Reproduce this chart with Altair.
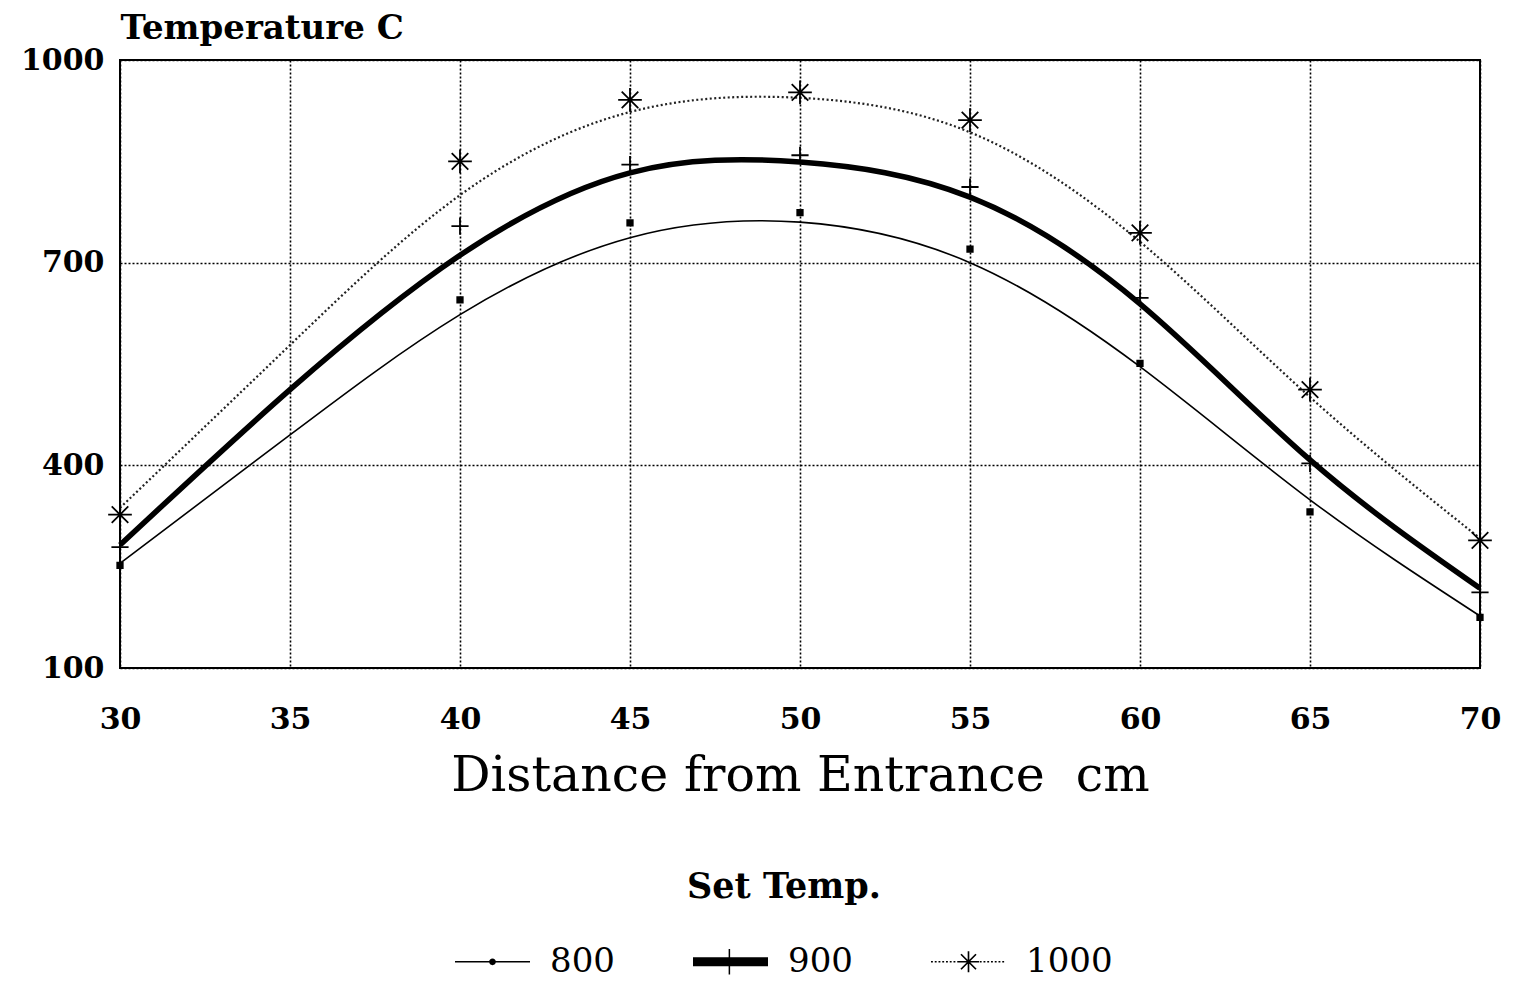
import altair as alt
import pandas as pd
import math

# ---------------- data ----------------
series = ["800", "900", "1000"]

# measured points (markers)
meas_x = [30, 40, 45, 50, 55, 60, 65, 70]
meas_800 = [252, 645, 759, 774, 720, 551, 331, 175]
meas_900 = [279, 754, 845, 859, 812, 648, 403, 212]
meas_1000 = [327, 850, 941, 952, 911, 744, 512, 289]

# fitted curves
fit_x = [30, 35, 40, 45, 50, 55, 60, 65, 70]
fit_800 = [255, 445, 623, 737, 760, 700, 546, 349, 177]
fit_900 = [282, 512, 711, 833, 849, 797, 639, 408, 218]
fit_1000 = [337, 578, 800, 923, 944, 893, 731, 501, 292]

x_ticks = [30, 35, 40, 45, 50, 55, 60, 65, 70]
y_ticks = [100, 400, 700, 1000]

meas_rows = []
for s, vals in zip(series, [meas_800, meas_900, meas_1000]):
    for x, v in zip(meas_x, vals):
        meas_rows.append({"distance": x, "temp": v, "series": s})
meas = pd.DataFrame(meas_rows)

fit_rows = []
for s, vals in zip(series, [fit_800, fit_900, fit_1000]):
    for x, v in zip(fit_x, vals):
        fit_rows.append({"distance": x, "temp": v, "series": s})
fit = pd.DataFrame(fit_rows)

FONT = "DejaVu Serif"

# ---------------- encodings ----------------
xenc = alt.X(
    "distance:Q",
    scale=alt.Scale(domain=[30, 70], nice=False, zero=False),
    axis=alt.Axis(
        values=x_ticks,
        format="d",
        title="Distance from Entrance\u00a0\u00a0cm",
        titleFont=FONT,
        titleFontSize=49,
        titleFontWeight="normal",
        titleColor="black",
        titleY=122,
        titleBaseline="alphabetic",
        titleLimit=1000,
        labelFont=FONT,
        labelFontSize=30,
        labelFontWeight="bold",
        labelColor="black",
        labelPadding=36,
        labelFlush=False,
        labelOverlap=False,
    ),
)
yenc = alt.Y(
    "temp:Q",
    scale=alt.Scale(domain=[100, 1000], nice=False, zero=False),
    axis=alt.Axis(
        values=y_ticks,
        format="d",
        title="Temperature C",
        titleFont=FONT,
        titleFontSize=34,
        titleFontWeight="bold",
        titleColor="black",
        titleAngle=0,
        titleAlign="left",
        titleBaseline="alphabetic",
        titleX=0,
        titleY=-22,
        titleLimit=1000,
        labelFont=FONT,
        labelFontSize=30,
        labelFontWeight="bold",
        labelColor="black",
        labelPadding=16,
        labelFlush=False,
        labelOverlap=False,
    ),
)

# ---------------- curve layers ----------------
line_800 = alt.Chart(fit).transform_filter(alt.datum.series == "800").mark_line(
    interpolate="natural", color="black", strokeWidth=1.6
).encode(x=xenc, y=yenc)

line_900 = alt.Chart(fit).transform_filter(alt.datum.series == "900").mark_line(
    interpolate="natural", color="black", strokeWidth=5.5
).encode(x=xenc, y=yenc)

line_1000 = alt.Chart(fit).transform_filter(alt.datum.series == "1000").mark_line(
    interpolate="natural", color="#222222", strokeWidth=2.2, strokeDash=[2, 2.5]
).encode(x=xenc, y=yenc)

# ---------------- marker layer ----------------
plus_path = "M-1,0H1M0,-1V1"
star_path = "M-1,0H1M0,-1V1M-0.7,-0.7L0.7,0.7M-0.7,0.7L0.7,-0.7"

markers = alt.Chart(meas).mark_point(stroke="black", strokeWidth=1.8, opacity=1).encode(
    x=xenc,
    y=yenc,
    shape=alt.Shape(
        "series:N",
        scale=alt.Scale(domain=series, range=["square", plus_path, star_path]),
        legend=None,
    ),
    size=alt.Size(
        "series:N", scale=alt.Scale(domain=series, range=[30, 560, 520]), legend=None
    ),
    fill=alt.Fill(
        "series:N",
        scale=alt.Scale(domain=series, range=["black", "transparent", "transparent"]),
        legend=None,
    ),
)


# ---------------- legend symbols (filled outlines: line + marker) ----------------
def rect(x1, y1, x2, y2):
    return f"M{x1:.3f},{y1:.3f}H{x2:.3f}V{y2:.3f}H{x1:.3f}Z"


def diag(p1, p2, w):
    dx, dy = p2[0] - p1[0], p2[1] - p1[1]
    L = math.hypot(dx, dy)
    dx, dy = dx / L, dy / L
    nx, ny = dy, -dx
    a = (p1[0] + nx * w, p1[1] + ny * w)
    b = (p2[0] + nx * w, p2[1] + ny * w)
    c = (p2[0] - nx * w, p2[1] - ny * w)
    d = (p1[0] - nx * w, p1[1] - ny * w)
    return "M{:.3f},{:.3f}L{:.3f},{:.3f}L{:.3f},{:.3f}L{:.3f},{:.3f}Z".format(
        *a, *b, *c, *d
    )


def circle(r):
    return f"M{-r},0A{r},{r} 0 1,1 {r},0A{r},{r} 0 1,1 {-r},0Z"


lw = 0.022
leg_800 = rect(-1, -lw, 1, lw) + circle(0.09)
leg_900 = rect(-1, -0.12, 1, 0.12) + rect(-0.05, -0.34, -0.01, 0.34)
dots = "".join(rect(-1 + i * 0.1, -lw, -1 + i * 0.1 + 0.05, lw) for i in range(20))
s = 0.28
k = 0.2
leg_1000 = (
    dots
    + rect(-s, -lw, s, lw)
    + rect(-lw, -s, lw, s)
    + diag((-k, -k), (k, k), lw)
    + diag((-k, k), (k, -k), lw)
)

legend_layer = alt.Chart(meas).mark_point(
    filled=True, fill="black", opacity=0, size=5625
).encode(
    x=xenc,
    y=yenc,
    shape=alt.Shape(
        "series:N",
        scale=alt.Scale(domain=series, range=[leg_800, leg_900, leg_1000]),
        legend=alt.Legend(
            title="Set Temp.",
            orient="none",
            legendX=335,
            legendY=810,
            direction="horizontal",
            columns=3,
            titleAnchor="middle",
            titleFont=FONT,
            titleFontSize=35,
            titleFontWeight="bold",
            titleColor="black",
            titlePadding=19,
            titleLimit=1000,
            labelFont=FONT,
            labelFontSize=34,
            labelFontWeight="normal",
            labelColor="black",
            labelOffset=20,
            columnPadding=78,
            symbolSize=5625,
            symbolStrokeWidth=0,
            symbolOpacity=1,
            symbolFillColor="black",
        ),
    ),
)

chart = (
    alt.layer(line_800, line_900, line_1000, markers, legend_layer)
    .resolve_scale(shape="independent", size="independent", fill="independent")
    .properties(
        width=1360,
        height=608,
        autosize=alt.AutoSizeParams(type="none"),
        padding={"left": 120, "top": 60, "right": 33, "bottom": 314},
        background="white",
    )
    .configure_view(stroke="black", strokeWidth=2)
    .configure_axis(
        domain=False,
        ticks=False,
        grid=True,
        gridColor="black",
        gridDash=[2, 2],
        gridWidth=1.6,
        gridOpacity=1,
    )
)

chart.save("out.html", embed_options={"renderer": "svg", "actions": False})
